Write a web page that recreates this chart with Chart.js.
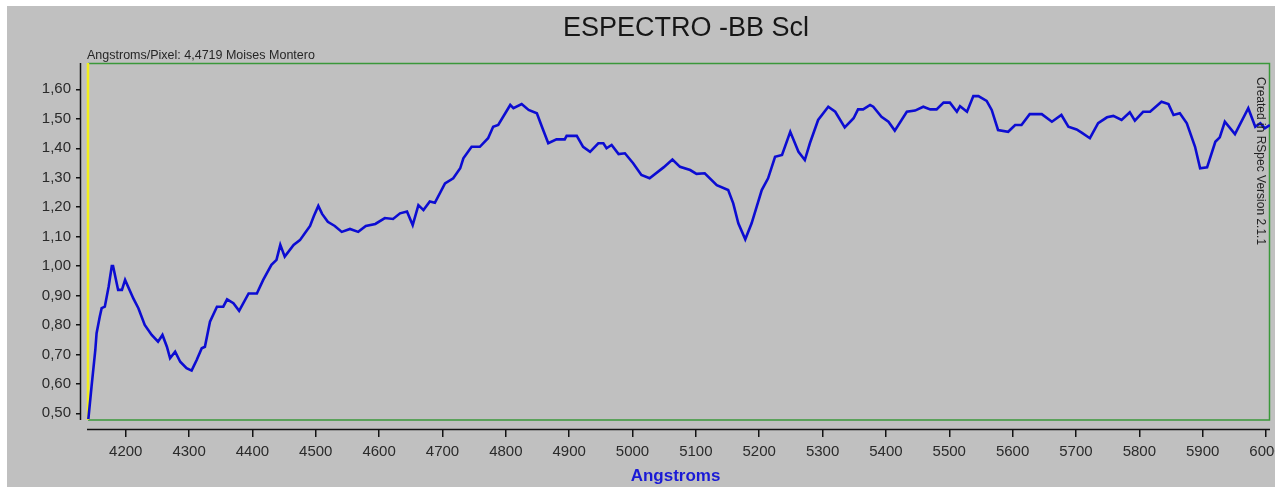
<!DOCTYPE html>
<html>
<head>
<meta charset="utf-8">
<title>ESPECTRO -BB Scl</title>
<script src="https://cdn.jsdelivr.net/npm/chart.js@4.4.1/dist/chart.umd.min.js"></script>
<style>
  html, body { margin: 0; padding: 0; background: #ffffff; }
  canvas { display: block; }
</style>
</head>
<body>
<canvas id="spectrum" width="1275" height="487"></canvas>
<script>
// Wavelength samples (Angstroms) of the BB Scl spectrum
const wavelength = [
  4141,4146,4152,4154,4159,4162,4167,4173,4178,4180,
  4188,4194,4199,4212,4220,4230,4241,4251,4258,4265,
  4270,4278,4286,4296,4304,4312,4320,4325,4333,4344,
  4354,4360,4370,4379,4394,4407,4417,4430,4438,4444,
  4451,4465,4475,4483,4491,4497,4504,4510,4519,4530,
  4541,4554,4567,4579,4594,4609,4622,4633,4644,4653,
  4662,4670,4680,4688,4704,4717,4728,4733,4746,4759,
  4772,4780,4788,4807,4812,4825,4836,4849,4857,4867,
  4880,4893,4896,4912,4922,4933,4946,4954,4959,4967,
  4978,4988,5001,5014,5027,5049,5063,5075,5091,5101,
  5114,5133,5151,5159,5167,5178,5188,5204,5214,5225,
  5236,5249,5262,5272,5280,5293,5309,5320,5335,5349,
  5356,5364,5375,5380,5393,5404,5414,5433,5446,5459,
  5470,5480,5491,5501,5512,5517,5528,5538,5546,5559,
  5567,5577,5593,5604,5614,5627,5646,5662,5677,5688,
  5701,5709,5722,5735,5749,5759,5772,5785,5793,5806,
  5817,5835,5846,5854,5864,5875,5888,5896,5907,5920,
  5927,5935,5951,5972,5983,5991,5998,6006
];

// Relative intensity at each wavelength
const intensity = [
  0.480,0.590,0.715,0.772,0.828,0.857,0.862,0.930,1.000,1.000,
  0.919,0.919,0.953,0.890,0.857,0.800,0.766,0.743,0.766,0.726,
  0.687,0.709,0.675,0.653,0.645,0.681,0.721,0.726,0.811,0.862,
  0.862,0.887,0.874,0.848,0.907,0.907,0.953,1.004,1.021,1.072,
  1.032,1.072,1.088,1.112,1.136,1.170,1.204,1.177,1.150,1.136,
  1.116,1.126,1.116,1.136,1.143,1.163,1.160,1.179,1.185,1.139,
  1.207,1.190,1.219,1.215,1.281,1.298,1.332,1.366,1.405,1.405,
  1.434,1.473,1.479,1.547,1.536,1.550,1.530,1.519,1.473,1.417,
  1.430,1.430,1.442,1.442,1.405,1.388,1.417,1.417,1.400,1.411,
  1.380,1.383,1.349,1.309,1.298,1.335,1.362,1.337,1.326,1.313,
  1.315,1.275,1.258,1.213,1.145,1.091,1.145,1.258,1.298,1.371,
  1.377,1.456,1.388,1.360,1.417,1.496,1.541,1.524,1.471,1.502,
  1.532,1.532,1.547,1.541,1.507,1.490,1.460,1.524,1.528,1.541,
  1.532,1.532,1.555,1.555,1.524,1.543,1.524,1.577,1.577,1.561,
  1.530,1.462,1.456,1.479,1.479,1.516,1.516,1.490,1.513,1.473,
  1.464,1.453,1.434,1.485,1.505,1.510,1.496,1.522,1.494,1.524,
  1.524,1.558,1.550,1.513,1.519,1.485,1.405,1.332,1.335,1.422,
  1.437,1.490,1.448,1.536,1.473,1.485,1.468,1.479
];

// Axis tick values
const xTicks = [4200,4300,4400,4500,4600,4700,4800,4900,5000,5100,
                5200,5300,5400,5500,5600,5700,5800,5900,6000];
const yTicks = [0.5,0.6,0.7,0.8,0.9,1.0,1.1,1.2,1.3,1.4,1.5,1.6];

// Text shown on the chart
const chartTitle = 'ESPECTRO -BB Scl';
const headerNote = 'Angstroms/Pixel: 4,4719 Moises Montero';
const sideNote = 'Created in RSpec Version 2.1.1';
const xAxisTitle = 'Angstroms';

const FONT = "'Liberation Sans', Arial, sans-serif";

// Panel background, plot frame, axis lines and the annotation texts
const framePlugin = {
  id: 'framePlugin',
  beforeDraw(chart) {
    const ctx = chart.ctx;
    ctx.save();
    ctx.fillStyle = '#ffffff';
    ctx.fillRect(0, 0, chart.width, chart.height);
    ctx.fillStyle = '#c0c0c0';
    ctx.fillRect(7, 6, chart.width - 7, chart.height - 6);
    ctx.restore();
  },
  beforeDatasetsDraw(chart) {
    const ctx = chart.ctx;
    const ca = chart.chartArea;
    const boxLeft = ca.left + 7;
    const boxBottom = ca.bottom - 9;
    ctx.save();
    // green plot frame
    ctx.strokeStyle = '#3a983a';
    ctx.lineWidth = 1.5;
    ctx.beginPath();
    ctx.moveTo(boxLeft, ca.top + 0.5);
    ctx.lineTo(ca.right - 0.5, ca.top + 0.5);
    ctx.lineTo(ca.right - 0.5, boxBottom);
    ctx.lineTo(boxLeft, boxBottom);
    ctx.stroke();
    // yellow left edge of the plot
    ctx.strokeStyle = '#f2ee1c';
    ctx.lineWidth = 2.5;
    ctx.beginPath();
    ctx.moveTo(boxLeft, ca.top);
    ctx.lineTo(boxLeft, boxBottom);
    ctx.stroke();
    // black axis lines
    ctx.strokeStyle = '#111111';
    ctx.lineWidth = 1.5;
    ctx.beginPath();
    ctx.moveTo(ca.left - 0.5, ca.top);
    ctx.lineTo(ca.left - 0.5, boxBottom);
    ctx.moveTo(boxLeft - 1, ca.bottom + 0.5);
    ctx.lineTo(ca.right, ca.bottom + 0.5);
    ctx.stroke();
    ctx.restore();
  },
  afterDraw(chart) {
    const ctx = chart.ctx;
    const ca = chart.chartArea;
    ctx.save();
    // main title
    ctx.fillStyle = '#161616';
    ctx.font = '27px ' + FONT;
    ctx.textAlign = 'center';
    ctx.textBaseline = 'middle';
    ctx.fillText(chartTitle, 686, 29);
    // note above the plot
    ctx.font = '12.5px ' + FONT;
    ctx.textAlign = 'left';
    ctx.textBaseline = 'alphabetic';
    ctx.fillStyle = '#262626';
    ctx.fillText(headerNote, ca.left + 6, 59);
    // vertical note along the right edge
    ctx.translate(ca.right - 13, 77);
    ctx.rotate(Math.PI / 2);
    ctx.font = '12px ' + FONT;
    ctx.fillStyle = '#1e1e1e';
    ctx.fillText(sideNote, 0, 0);
    ctx.restore();
  }
};

const points = wavelength.map((w, i) => ({ x: w, y: intensity[i] }));

new Chart(document.getElementById('spectrum'), {
  type: 'line',
  data: {
    datasets: [{
      data: points,
      borderColor: '#0c0cd2',
      borderWidth: 2.6,
      pointRadius: 0,
      tension: 0,
      fill: false
    }]
  },
  options: {
    responsive: false,
    animation: false,
    devicePixelRatio: 1,
    layout: { padding: { top: 63, right: 5, left: 0, bottom: 0 } },
    plugins: {
      legend: { display: false },
      tooltip: { enabled: false },
      title: { display: false }
    },
    scales: {
      x: {
        type: 'linear',
        position: 'bottom',
        min: 4129.4,
        max: 6006.3,
        afterBuildTicks(scale) { scale.ticks = xTicks.map(v => ({ value: v })); },
        afterFit(scale) { scale.height = 58; scale.paddingLeft = 0; scale.paddingRight = 0; },
        border: { display: false },
        grid: { drawOnChartArea: false, drawTicks: true, tickLength: 8, color: '#111111', lineWidth: 1.5 },
        ticks: {
          autoSkip: false, maxRotation: 0, padding: 6, color: '#2a2a2a',
          font: { family: FONT, size: 15 },
          callback: v => String(v)
        },
        title: {
          display: true, text: xAxisTitle, color: '#1a1ad6',
          font: { family: FONT, size: 17, weight: 'bold' },
          padding: { top: 0, bottom: 0 }
        }
      },
      y: {
        type: 'linear',
        min: 0.4467,
        max: 1.6895,
        afterBuildTicks(scale) { scale.ticks = yTicks.map(v => ({ value: v })); },
        afterFit(scale) { scale.width = 81; scale.paddingTop = 0; scale.paddingBottom = 0; },
        border: { display: false },
        grid: { drawOnChartArea: false, drawTicks: true, tickLength: 5, color: '#111111', lineWidth: 1.5 },
        ticks: {
          padding: 5, color: '#2a2a2a',
          font: { family: FONT, size: 15 },
          callback: v => Number(v).toFixed(2).replace('.', ',')
        }
      }
    }
  },
  plugins: [framePlugin]
});
</script>
</body>
</html>
